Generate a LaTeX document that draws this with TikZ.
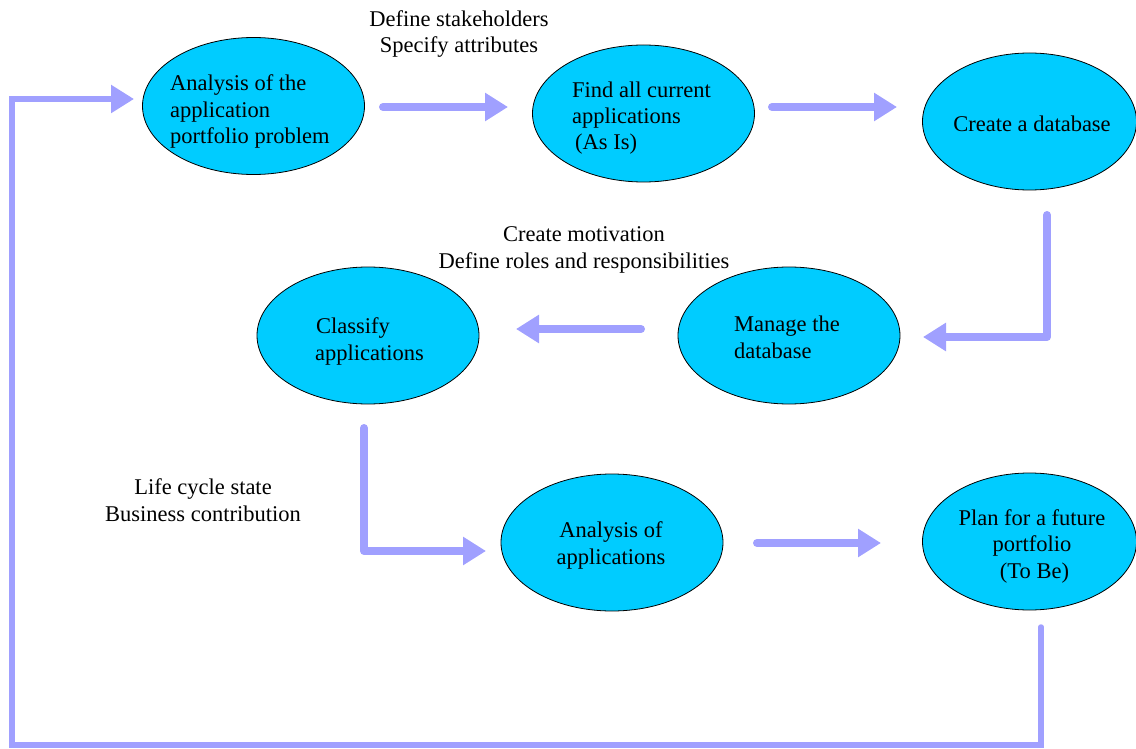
\documentclass[tikz,border=0pt]{standalone}
\usepackage{fontspec}
\setmainfont{Liberation Serif}
\usetikzlibrary{arrows.meta,shapes.geometric}
\definecolor{ellfill}{HTML}{00CCFF}
\definecolor{arr}{HTML}{A0A0FF}
\begin{document}
\begin{tikzpicture}[x=1pt,y=-1pt,
  ell/.style={ellipse,draw=black,line width=0.8pt,fill=ellfill,inner sep=0pt,
    minimum width=222pt,minimum height=137pt},
  txt/.style={font=\fontsize{22.5}{26.5}\selectfont,inner sep=0pt},
  flow/.style={draw=arr,line width=8pt,line cap=round,line join=round,
    -{Triangle[length=23pt,width=27pt]}},
  loopflow/.style={draw=arr,line width=5.5pt,line cap=round,line join=miter,
    -{Triangle[length=23pt,width=27pt]}}]
\useasboundingbox (0,0) rectangle (1136,749);

% ellipses
\node[ell] (n1) at (253.5,106) {};
\node[ell] (n2) at (643.5,113.5) {};
\node[ell,minimum width=214pt] (n3) at (1029.5,121.5) {};
\node[ell] (n4) at (789,335.5) {};
\node[ell] (n5) at (368,335.5) {};
\node[ell] (n6) at (612,542.5) {};
\node[ell,minimum width=214pt] (n7) at (1029.5,541.5) {};

% ellipse texts (anchor = baseline of last line)
\node[txt,align=left,anchor=base west] (t1) at (170,144) {Analysis of the\\application\\portfolio problem};
\node[txt,align=left,anchor=base west] (t2) at (572,150) {Find all current\\applications\\\hspace*{3pt}(As Is)};
\node[txt,anchor=base] (t3) at (1032,132) {Create a database};
\node[txt,align=left,anchor=base west] (t4) at (734,358) {Manage the\\database};
\node[txt,align=left,anchor=base west] (t5) at (315,360) {\hspace*{1pt}Classify\\applications};
\node[txt,align=center,anchor=base] (t6) at (611,564) {Analysis of\\applications};
\node[txt,align=center,anchor=base] (t7) at (1032,578) {Plan for a future\\portfolio\\\hspace*{5pt}(To Be)};

% free labels
\node[txt,align=center,anchor=base] (l1) at (459,53) {Define stakeholders\\Specify attributes};
\node[txt,align=center,anchor=base] (l2) at (584,268) {Create motivation\\Define roles and responsibilities};
\node[txt,align=center,anchor=base] (l3) at (203,521) {Life cycle state\\Business contribution};

% arrow end points
\coordinate (a1s) at (383,107); \coordinate (a1e) at (508,107);
\coordinate (a2s) at (772,107); \coordinate (a2e) at (897,107);
\coordinate (a3s) at (1047,215); \coordinate (a3c) at (1047,337); \coordinate (a3e) at (923,337);
\coordinate (a4s) at (641,329); \coordinate (a4e) at (516,329);
\coordinate (a5s) at (364,428); \coordinate (a5c) at (364,551); \coordinate (a5e) at (486,551);
\coordinate (a6s) at (757,543); \coordinate (a6e) at (881,543);
\coordinate (r0) at (1041,627); \coordinate (r1) at (1041,745);
\coordinate (r2) at (12,745); \coordinate (r3) at (12,99); \coordinate (r4) at (134,99);

\draw[flow] (a1s) -- (a1e);
\draw[flow] (a2s) -- (a2e);
\draw[flow] (a3s) -- (a3c) -- (a3e);
\draw[flow] (a4s) -- (a4e);
\draw[flow] (a5s) -- (a5c) -- (a5e);
\draw[flow] (a6s) -- (a6e);
\draw[loopflow] (r0) -- (r1) -- (r2) -- (r3) -- (r4);
\end{tikzpicture}
\end{document}
